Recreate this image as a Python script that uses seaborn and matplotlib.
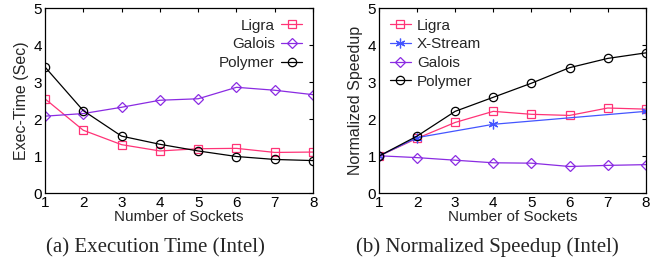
import numpy as np
import pandas as pd
import matplotlib
matplotlib.use("Agg")
import matplotlib.pyplot as plt
import seaborn as sns

sockets = [1, 2, 3, 4, 5, 6, 7, 8]

# (a) execution time, seconds
exec_ligra = [2.55, 1.70, 1.31, 1.14, 1.20, 1.21, 1.10, 1.11]
exec_galois = [2.08, 2.15, 2.32, 2.51, 2.55, 2.86, 2.78, 2.66]
exec_polymer = [3.41, 2.23, 1.54, 1.32, 1.14, 0.99, 0.91, 0.88]

# (b) normalized speedup
speed_ligra = [1.0, 1.48, 1.91, 2.21, 2.13, 2.10, 2.30, 2.27]
xstream_sockets = [1, 2, 4, 8]
speed_xstream = [1.0, 1.50, 1.86, 2.21]
speed_galois = [1.01, 0.96, 0.89, 0.82, 0.81, 0.72, 0.75, 0.77]
speed_polymer = [1.0, 1.54, 2.21, 2.59, 2.97, 3.39, 3.64, 3.79]

colors = {"Ligra": "#ff3377", "X-Stream": "#4455ff", "Galois": "#8a2be2", "Polymer": "#000000"}
markers = {"Ligra": "s", "X-Stream": "*", "Galois": "D", "Polymer": "o"}

sns.set_style("white")
plt.rcParams["font.family"] = ["Liberation Sans", "DejaVu Sans"]

fig = plt.figure(figsize=(6.51, 2.61), dpi=100)
ax1 = fig.add_axes([0.069, 0.260, 0.412, 0.709])
ax2 = fig.add_axes([0.582, 0.260, 0.410, 0.709])


def draw(ax, name, xs, ys):
    c = colors[name]
    m = markers[name]
    size = 6
    kw = dict(markerfacecolor="none", markeredgecolor=c, markeredgewidth=0.9)
    if m == "*":
        m = (6, 2, 0)
        size = 7
        kw = dict(markeredgecolor=c, markeredgewidth=0.9)
    elif m == "D":
        size = 5.5
    sns.lineplot(x=xs, y=ys, ax=ax, color=c, marker=m, markersize=size,
                 linewidth=0.9, label=name, **kw)


draw(ax1, "Ligra", sockets, exec_ligra)
draw(ax1, "Galois", sockets, exec_galois)
draw(ax1, "Polymer", sockets, exec_polymer)

draw(ax2, "Ligra", sockets, speed_ligra)
draw(ax2, "X-Stream", xstream_sockets, speed_xstream)
draw(ax2, "Galois", sockets, speed_galois)
draw(ax2, "Polymer", sockets, speed_polymer)

for ax in (ax1, ax2):
    ax.set_xlim(1, 8)
    ax.set_ylim(0, 5)
    ax.set_xticks(sockets)
    ax.set_yticks([0, 1, 2, 3, 4, 5])
    ax.tick_params(direction="in", length=3, width=0.8, top=True, right=True,
                   labelsize=11, pad=2, colors="black")
    for s in ax.spines.values():
        s.set_color("black")
        s.set_linewidth(0.9)
    ax.set_xlabel("Number of Sockets", fontsize=11, labelpad=0)

ax1.set_ylabel("Exec-Time (Sec)", fontsize=11.5, labelpad=3)
ax2.set_ylabel("Normalized Speedup", fontsize=11.5, labelpad=3)

ax1.legend(loc="upper right", frameon=False, markerfirst=False, fontsize=11,
           handlelength=1.4, handletextpad=0.4, labelspacing=0.3, borderaxespad=0.3)
ax2.legend(loc="upper left", frameon=False, markerfirst=True, fontsize=11,
           handlelength=1.4, handletextpad=0.4, labelspacing=0.3, borderaxespad=0.3)

fig.text(0.238, 0.015, "(a) Execution Time (Intel)", ha="center", va="bottom",
         fontsize=15, family=["Liberation Serif", "DejaVu Serif"])
fig.text(0.748, 0.015, "(b) Normalized Speedup (Intel)", ha="center", va="bottom",
         fontsize=15, family=["Liberation Serif", "DejaVu Serif"])

fig.savefig("out.png", dpi=100)
